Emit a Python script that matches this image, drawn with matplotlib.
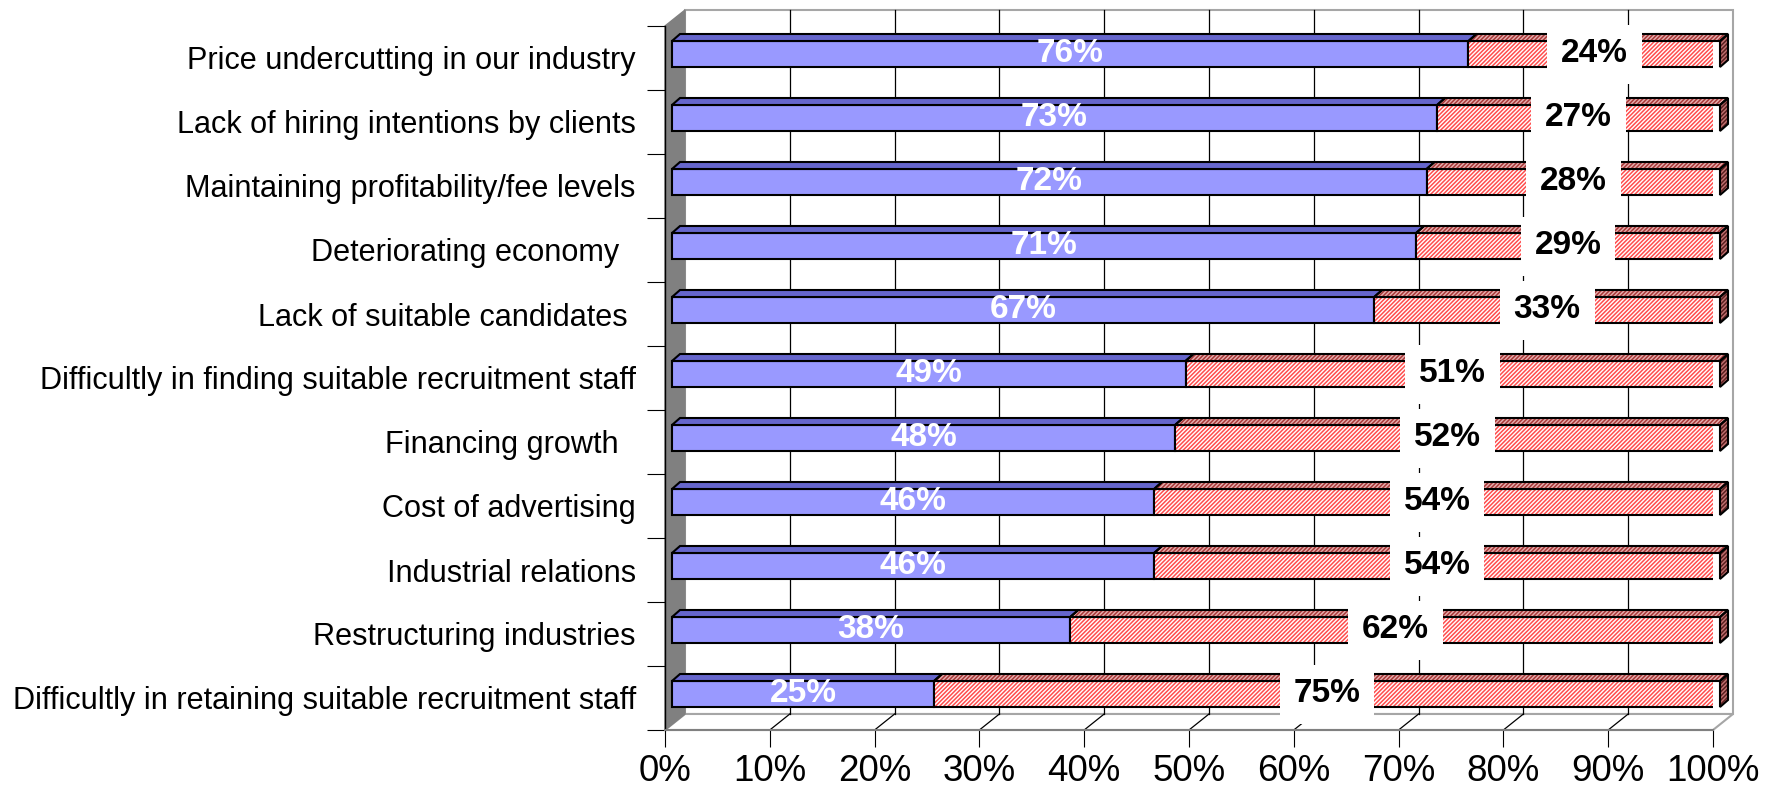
import numpy as np
import matplotlib
matplotlib.use("Agg")
import matplotlib.pyplot as plt
from matplotlib.patches import Polygon
from matplotlib.ticker import FuncFormatter

plt.rcParams["font.family"] = ["Liberation Sans", "DejaVu Sans"]
plt.rcParams["hatch.linewidth"] = 1.1

# ---- data -------------------------------------------------------------
categories = [
    "Price undercutting in our industry",
    "Lack of hiring intentions by clients",
    "Maintaining profitability/fee levels",
    "Deteriorating economy  ",
    "Lack of suitable candidates ",
    "Difficultly in finding suitable recruitment staff",
    "Financing growth  ",
    "Cost of advertising",
    "Industrial relations",
    "Restructuring industries",
    "Difficultly in retaining suitable recruitment staff",
]
share_major = [76, 73, 72, 71, 67, 49, 48, 46, 46, 38, 25]
share_minor = [24, 27, 28, 29, 33, 51, 52, 54, 54, 62, 75]
x_ticks = [0, 10, 20, 30, 40, 50, 60, 70, 80, 90, 100]

# ---- colours ------------------------------------------------------------
BLUE_FRONT = "#9999FF"
BLUE_TOP = "#6666CC"
RED_HATCH = "#FF4D4D"
RED_TOP_FACE = "#E8B0B0"
RED_TOP_HATCH = "#A83838"
RED_SIDE_FACE = "#C07070"
RED_SIDE_HATCH = "#5A2020"
WALL_GREY = "#808080"
EDGE_GREY = "#A6A6A6"

# ---- figure / axes (axes = front plane of the 3-D box) -----------------
W, H, DPI = 1766, 792, 100
fig = plt.figure(figsize=(W / DPI, H / DPI), dpi=DPI)
L, R, T, B = 665, 1713, 26, 730
ax = fig.add_axes([L / W, 1 - B / H, (R - L) / W, (B - T) / H])
n = len(categories)
ax.set_xlim(0, 100)
ax.set_ylim(n - 0.5, -0.5)
ax.patch.set_visible(False)

px_per_x = (R - L) / 100.0
px_per_y = (B - T) / n


def ux(px):
    return px / px_per_x


def uy(px):
    return px / px_per_y


# depth of the box (back wall is up and to the right)
wdx, wdy = ux(20), uy(16)
top_f, bot_f = -0.5, n - 0.5
top_b, bot_b = top_f - wdy, bot_f - wdy

# back wall
ax.add_patch(Polygon([(wdx, top_b), (100 + wdx, top_b), (100 + wdx, bot_b), (wdx, bot_b)],
                     closed=True, facecolor="white", edgecolor=EDGE_GREY, lw=1.5,
                     clip_on=False, zorder=0))
# floor
ax.add_patch(Polygon([(0, bot_f), (100, bot_f), (100 + wdx, bot_b), (wdx, bot_b)],
                     closed=True, facecolor="white", edgecolor=EDGE_GREY, lw=1.5,
                     clip_on=False, zorder=0.5))
# gridlines on the back wall and across the floor
for p in x_ticks[1:-1]:
    ax.plot([p + wdx, p + wdx], [top_b, bot_b], color="black", lw=0.9,
            clip_on=False, zorder=1)
    ax.plot([p + wdx, p], [bot_b, bot_f], color="black", lw=0.9,
            clip_on=False, zorder=1)
# left side wall
ax.add_patch(Polygon([(0, top_f), (wdx, top_b), (wdx, bot_b), (0, bot_f)],
                     closed=True, facecolor=WALL_GREY, edgecolor=WALL_GREY, lw=1,
                     clip_on=False, zorder=1.5))

# ---- bars -----------------------------------------------------------------
bx = ux(7)          # bar front face sits a little behind the front plane
by = uy(-4)
bh = uy(26)
ddx, ddy = ux(8), uy(7)  # bar depth
ypos = np.arange(n) + by
lefts_minor = [bx + v for v in share_major]

ax.barh(ypos, share_major, left=bx, height=bh, color=BLUE_FRONT,
        edgecolor="black", lw=1.5, zorder=3)
ax.barh(ypos, share_minor, left=lefts_minor, height=bh, facecolor="white",
        edgecolor=RED_HATCH, hatch="////////", lw=0, zorder=3)
ax.barh(ypos, share_minor, left=lefts_minor, height=bh, fill=False,
        edgecolor="black", lw=1.5, zorder=3.2)

for i in range(n):
    yt = ypos[i] - bh / 2
    yb = ypos[i] + bh / 2
    x0 = bx
    x1 = bx + share_major[i]
    x2 = x1 + share_minor[i]
    ax.add_patch(Polygon([(x0, yt), (x1, yt), (x1 + ddx, yt - ddy), (x0 + ddx, yt - ddy)],
                         closed=True, facecolor=BLUE_TOP, edgecolor="black", lw=1.5,
                         zorder=3.5, clip_on=False))
    top_red = [(x1, yt), (x2, yt), (x2 + ddx, yt - ddy), (x1 + ddx, yt - ddy)]
    ax.add_patch(Polygon(top_red, closed=True, facecolor=RED_TOP_FACE,
                         edgecolor=RED_TOP_HATCH, hatch="////////", lw=0,
                         zorder=3.4, clip_on=False))
    ax.add_patch(Polygon(top_red, closed=True, fill=False, edgecolor="black", lw=1.5,
                         zorder=3.5, clip_on=False))
    side = [(x2, yt), (x2 + ddx, yt - ddy), (x2 + ddx, yb - ddy), (x2, yb)]
    ax.add_patch(Polygon(side, closed=True, facecolor=RED_SIDE_FACE,
                         edgecolor=RED_SIDE_HATCH, hatch="////////", lw=0,
                         zorder=3.4, clip_on=False))
    ax.add_patch(Polygon(side, closed=True, fill=False, edgecolor="black", lw=1.5,
                         zorder=3.5, clip_on=False))

    ax.text(bx + share_major[i] / 2, ypos[i], f"{share_major[i]}%", color="white",
            fontsize=24, fontweight="bold", ha="center", va="center", zorder=6)
    ax.text(bx + share_major[i] + share_minor[i] / 2, ypos[i], f"{share_minor[i]}%",
            color="black", fontsize=24, fontweight="bold", ha="center", va="center",
            zorder=7, bbox=dict(boxstyle="square,pad=0.42", facecolor="white",
                                edgecolor="none"))

# ---- axes, ticks ----------------------------------------------------------
for s in ("top", "right"):
    ax.spines[s].set_visible(False)
ax.spines["left"].set_color("black")
ax.spines["left"].set_linewidth(1.0)
ax.spines["bottom"].set_color(WALL_GREY)
ax.spines["bottom"].set_linewidth(1.5)
ax.spines["left"].set_zorder(2)

ax.set_xticks(x_ticks)
ax.xaxis.set_major_formatter(FuncFormatter(lambda v, _: f"{v:.0f}%"))
ax.tick_params(axis="x", length=12.2, width=0.8, pad=5, labelsize=26.5, colors="black")

ax.set_yticks(np.arange(n + 1) - 0.5)
ax.set_yticks(np.arange(n), minor=True)
ax.set_yticklabels(categories, minor=True)
ax.tick_params(axis="y", which="major", length=13, width=0.8, labelleft=False)
ax.tick_params(axis="y", which="minor", length=0, pad=21, labelsize=22.1)

fig.savefig("out.png", dpi=DPI)
